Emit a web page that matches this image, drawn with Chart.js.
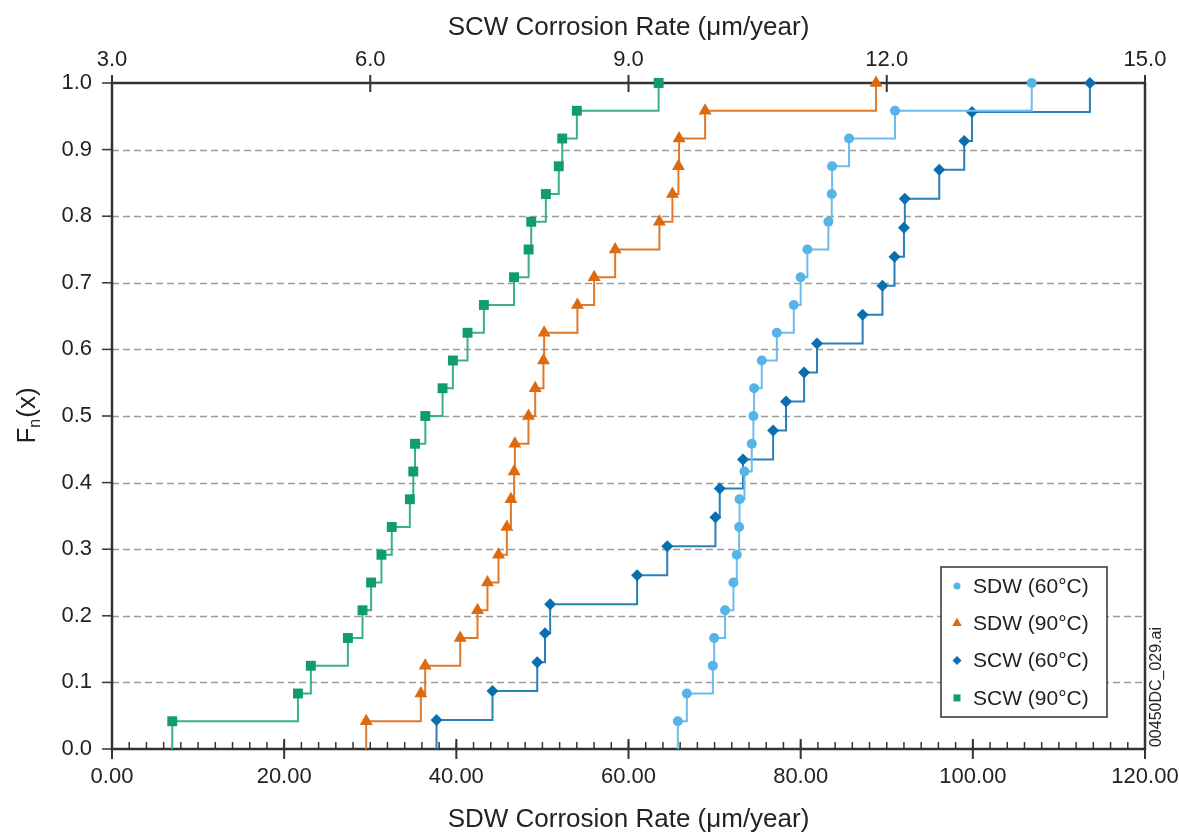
<!DOCTYPE html>
<html>
<head>
<meta charset="utf-8">
<title>Corrosion rate ECDF</title>
<script src="https://cdn.jsdelivr.net/npm/chart.js@4.4.1/dist/chart.umd.min.js"></script>
<style>
  html, body { margin: 0; padding: 0; background: #fff; }
  #wrap { width: 1179px; height: 835px; position: relative; }
</style>
</head>
<body>
<div id="wrap"><canvas id="myChart"></canvas></div>
<script>
// Sorted corrosion rates (SDW on bottom axis, SCW on top axis)
const sdw60 = [65.73, 66.78, 69.80, 69.95, 71.22, 72.19, 72.58, 72.85, 72.90, 73.47, 74.32, 74.51,
               74.59, 75.48, 77.23, 79.20, 80.00, 80.78, 83.22, 83.61, 83.65, 85.62, 90.96, 106.84];
const sdw90 = [29.53, 35.88, 36.38, 40.45, 42.46, 43.62, 44.90, 45.87, 46.34, 46.72, 46.80, 48.38,
               49.16, 50.12, 50.20, 54.07, 56.01, 58.45, 63.59, 65.10, 65.80, 65.88, 68.90, 88.76];
const scw60 = [6.77, 7.42, 7.94, 8.03, 8.09, 9.10, 9.45, 10.01, 10.06, 10.33, 10.68, 10.83,
               11.04, 11.19, 11.72, 11.95, 12.09, 12.20, 12.21, 12.61, 12.90, 12.99, 14.36];
const scw90 = [3.70, 5.16, 5.31, 5.74, 5.91, 6.01, 6.13, 6.25, 6.46, 6.50, 6.52, 6.64,
               6.84, 6.96, 7.13, 7.32, 7.67, 7.84, 7.87, 8.04, 8.19, 8.23, 8.40, 9.35];

const seriesLabels = ['SDW (60°C)', 'SDW (90°C)', 'SCW (60°C)', 'SCW (90°C)'];

// Tick labels
const sdwTicks = [0, 20, 40, 60, 80, 100, 120];
const scwTicks = [3, 6, 9, 12, 15];
const fnTicks = [0.0, 0.1, 0.2, 0.3, 0.4, 0.5, 0.6, 0.7, 0.8, 0.9, 1.0];

const FONT = "'Liberation Sans', Arial, Helvetica, sans-serif";
const TEXT = '#222';
const FRAME = '#333';

// Empirical CDF: start at 0 below the first value, then rank / n at each value
function ecdfPoints(values) {
    const n = values.length;
    const pts = [{ x: values[0], y: 0 }];
    values.forEach((v, i) => pts.push({ x: v, y: (i + 1) / n }));
    return pts;
}

function makeSet(label, values, axis, color, lineColor, style, radius) {
    return {
        label: label,
        data: ecdfPoints(values),
        xAxisID: axis,
        stepped: 'before',
        borderColor: lineColor,
        borderWidth: 2,
        pointStyle: style,
        pointBackgroundColor: color,
        pointBorderColor: color,
        pointBorderWidth: 0,
        pointRadius: (c) => c.dataIndex === 0 ? 0 : radius,
        pointHoverRadius: (c) => c.dataIndex === 0 ? 0 : radius,
        fill: false,
        clip: false
    };
}

// fixed axis box sizes, no label overhang padding
function fixHeight(h) {
    return (s) => { s.height = h; s.paddingLeft = 0; s.paddingRight = 0; };
}

// Draws frame, dashed grid and tick marks behind the data
const axesDecor = {
    id: 'axesDecor',
    beforeDatasetsDraw(chart) {
        const { ctx, chartArea: a, scales } = chart;
        const x = scales.x, x2 = scales.x2, y = scales.y;
        ctx.save();

        // dashed horizontal grid
        ctx.strokeStyle = '#9a9a9a';
        ctx.lineWidth = 1.3;
        ctx.setLineDash([7, 4]);
        fnTicks.forEach(v => {
            if (v === 0 || v === 1) return;
            const py = Math.round(y.getPixelForValue(v)) + 0.5;
            ctx.beginPath();
            ctx.moveTo(a.left, py);
            ctx.lineTo(a.right, py);
            ctx.stroke();
        });
        ctx.setLineDash([]);

        ctx.strokeStyle = FRAME;
        ctx.lineWidth = 1.5;
        // y ticks (outside)
        fnTicks.forEach(v => {
            const py = y.getPixelForValue(v);
            ctx.beginPath();
            ctx.moveTo(a.left - 10, py);
            ctx.lineTo(a.left, py);
            ctx.stroke();
        });
        // bottom minor ticks (inside)
        for (let v = 0; v <= 120; v += 2) {
            const px = x.getPixelForValue(v);
            ctx.beginPath();
            ctx.moveTo(px, a.bottom);
            ctx.lineTo(px, a.bottom - 7);
            ctx.stroke();
        }
        // bottom major ticks (crossing)
        ctx.lineWidth = 2;
        sdwTicks.forEach(v => {
            const px = x.getPixelForValue(v);
            ctx.beginPath();
            ctx.moveTo(px, a.bottom - 10);
            ctx.lineTo(px, a.bottom + 10);
            ctx.stroke();
        });
        // top major ticks (crossing)
        scwTicks.forEach(v => {
            const px = x2.getPixelForValue(v);
            ctx.beginPath();
            ctx.moveTo(px, a.top - 8);
            ctx.lineTo(px, a.top + 9);
            ctx.stroke();
        });

        // frame
        ctx.lineWidth = 2.5;
        ctx.strokeRect(a.left, a.top, a.right - a.left, a.bottom - a.top);
        ctx.restore();
    },
    afterDraw(chart) {
        const { ctx, chartArea: a } = chart;
        ctx.save();

        // y-axis title F_n(x)
        ctx.translate(28, (a.top + a.bottom) / 2);
        ctx.rotate(-Math.PI / 2);
        ctx.fillStyle = TEXT;
        ctx.textBaseline = 'middle';
        ctx.font = `26px ${FONT}`;
        const wF = ctx.measureText('F').width;
        ctx.font = `16px ${FONT}`;
        const wn = ctx.measureText('n').width;
        ctx.font = `26px ${FONT}`;
        const wx = ctx.measureText('(x)').width;
        let tx = -(wF + wn + wx) / 2;
        ctx.fillText('F', tx, 0);
        ctx.font = `16px ${FONT}`;
        ctx.fillText('n', tx + wF, 8);
        ctx.font = `26px ${FONT}`;
        ctx.fillText('(x)', tx + wF + wn + 1, 0);
        ctx.restore();

        // file tag on the right
        ctx.save();
        ctx.translate(a.right + 12, a.bottom - 62);
        ctx.rotate(-Math.PI / 2);
        ctx.font = `16px ${FONT}`;
        ctx.fillStyle = TEXT;
        ctx.textAlign = 'center';
        ctx.textBaseline = 'middle';
        ctx.fillText('00450DC_029.ai', 0, 0);
        ctx.restore();

        drawLegend(chart);
    }
};

function drawMarker(ctx, style, cx, cy, r) {
    ctx.beginPath();
    if (style === 'circle') {
        ctx.arc(cx, cy, r, 0, Math.PI * 2);
    } else if (style === 'triangle') {
        ctx.moveTo(cx, cy - r);
        ctx.lineTo(cx + r * 0.87, cy + r * 0.5);
        ctx.lineTo(cx - r * 0.87, cy + r * 0.5);
        ctx.closePath();
    } else if (style === 'rectRot') {
        ctx.moveTo(cx, cy - r);
        ctx.lineTo(cx + r, cy);
        ctx.lineTo(cx, cy + r);
        ctx.lineTo(cx - r, cy);
        ctx.closePath();
    } else {
        ctx.rect(cx - r, cy - r, 2 * r, 2 * r);
    }
    ctx.fill();
}

function drawLegend(chart) {
    const { ctx, chartArea: a } = chart;
    const w = 166, h = 150;
    const bx = a.right - 38 - w, by = a.bottom - 32 - h;
    const sizes = [3.5, 5.5, 4.5, 3.5];
    ctx.save();
    ctx.fillStyle = '#fff';
    ctx.fillRect(bx, by, w, h);
    ctx.strokeStyle = FRAME;
    ctx.lineWidth = 1.5;
    ctx.strokeRect(bx, by, w, h);
    ctx.font = `21px ${FONT}`;
    ctx.textBaseline = 'middle';
    chart.data.datasets.forEach((ds, i) => {
        const ry = by + 19 + i * 37.3;
        ctx.fillStyle = ds.pointBackgroundColor;
        drawMarker(ctx, ds.pointStyle, bx + 16, ry, sizes[i]);
        ctx.fillStyle = TEXT;
        ctx.fillText(ds.label, bx + 32, ry + 1);
    });
    ctx.restore();
}

const ctx = document.getElementById('myChart').getContext('2d');

const config = {
    type: 'line',
    data: {
        datasets: [
            makeSet(seriesLabels[0], sdw60, 'x', '#56b4e9', '#6cbde9', 'circle', 5),
            makeSet(seriesLabels[1], sdw90, 'x', '#dd6a0e', '#e0782a', 'triangle', 7.5),
            makeSet(seriesLabels[2], scw60, 'x2', '#0a6fae', '#2a7fb8', 'rectRot', 6),
            makeSet(seriesLabels[3], scw90, 'x2', '#109b70', '#3bb088', 'rect', 7)
        ]
    },
    options: {
        responsive: true,
        maintainAspectRatio: false,
        devicePixelRatio: 1,
        animation: false,
        layout: { padding: { left: 0, right: 34, top: 0, bottom: 0 } },
        scales: {
            x: {
                type: 'linear',
                position: 'bottom',
                min: 0,
                max: 120,
                afterFit: fixHeight(86),
                afterBuildTicks: (s) => { s.ticks = sdwTicks.map(v => ({ value: v })); },
                grid: { display: true, drawOnChartArea: false, drawTicks: false },
                border: { display: false },
                ticks: {
                    autoSkip: false,
                    maxRotation: 0,
                    padding: 15,
                    color: TEXT,
                    font: { family: FONT, size: 22 },
                    callback: (v) => Number(v).toFixed(2)
                },
                title: {
                    display: true,
                    text: 'SDW Corrosion Rate (μm/year)',
                    color: TEXT,
                    font: { family: FONT, size: 26 },
                    padding: { top: 0, bottom: 0 }
                }
            },
            x2: {
                type: 'linear',
                position: 'top',
                min: 3,
                max: 15,
                afterFit: fixHeight(83),
                afterBuildTicks: (s) => { s.ticks = scwTicks.map(v => ({ value: v })); },
                grid: { display: true, drawOnChartArea: false, drawTicks: false },
                border: { display: false },
                ticks: {
                    autoSkip: false,
                    maxRotation: 0,
                    padding: 10,
                    color: TEXT,
                    font: { family: FONT, size: 22 },
                    callback: (v) => Number(v).toFixed(1)
                },
                title: {
                    display: true,
                    text: 'SCW Corrosion Rate (μm/year)',
                    color: TEXT,
                    font: { family: FONT, size: 26 },
                    padding: { top: 12, bottom: 0 }
                }
            },
            y: {
                type: 'linear',
                min: 0,
                max: 1,
                afterFit: (s) => { s.width = 112; s.paddingTop = 0; s.paddingBottom = 0; },
                afterBuildTicks: (s) => { s.ticks = fnTicks.map(v => ({ value: v })); },
                grid: { display: true, drawOnChartArea: false, drawTicks: false },
                border: { display: false },
                ticks: {
                    autoSkip: false,
                    padding: 20,
                    color: TEXT,
                    font: { family: FONT, size: 22 },
                    callback: (v) => Number(v).toFixed(1)
                }
            }
        },
        plugins: {
            legend: { display: false },
            tooltip: { enabled: false }
        }
    },
    plugins: [axesDecor]
};

const myChart = new Chart(ctx, config);
</script>
</body>
</html>
